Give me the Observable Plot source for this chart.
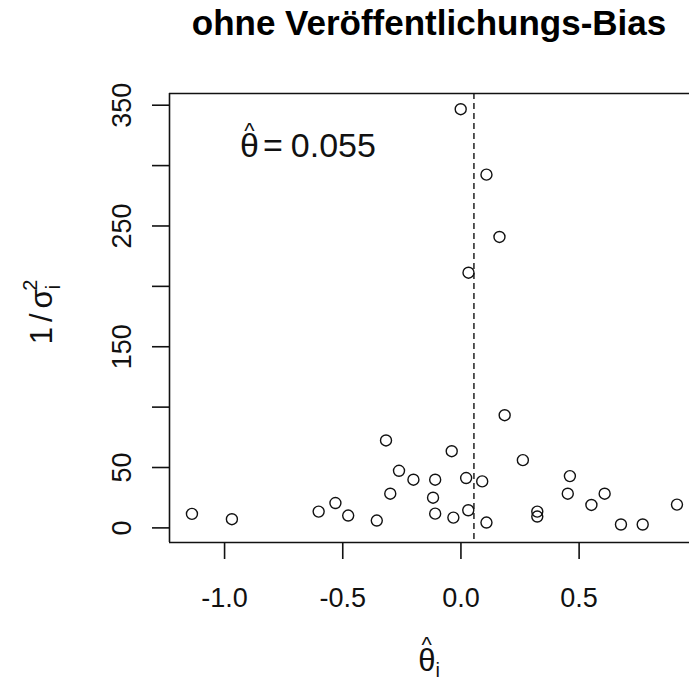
<!DOCTYPE html>
<html><head><meta charset="utf-8">
<script src="https://cdn.jsdelivr.net/npm/d3@7"></script>
<script src="https://cdn.jsdelivr.net/npm/@observablehq/plot@0.6"></script>
<style>
body{margin:0;background:#fff;overflow:hidden}
#wrap{position:relative;width:689px;height:679px;font-family:"Liberation Sans",Arial,sans-serif}
#wrap svg{position:absolute;left:0;top:0}
#title{position:absolute;left:169px;width:520px;top:0;line-height:46px;text-align:center;font-weight:bold;font-size:35px;color:#000;white-space:nowrap;z-index:2}
</style></head><body>
<div id="wrap"><div id="title">ohne Veröffentlichungs-Bias</div></div>
<script>
// study estimates (theta-hat_i) and precisions (1 / sigma_i^2)
const theta = [-1.138,-0.969,-0.602,-0.531,-0.477,-0.356,-0.317,-0.299,-0.262,-0.201,-0.109,-0.118,-0.109,-0.039,-0.032,0.022,0.031,0.090,0.108,0.185,0.262,0.323,0.323,0.461,0.452,0.552,0.608,0.677,0.769,0.914,-0.001,0.108,0.163,0.032];
const precision = [11.6,7.2,13.5,20.6,10.2,6.1,72.4,28.3,47.3,39.9,39.9,25.0,11.8,63.5,8.5,41.3,14.6,38.5,4.4,93.3,56.1,13.5,9.4,42.9,28.3,19.0,28.3,2.8,2.8,19.3,346.7,292.5,240.9,211.3];
const thetaHat = 0.055;
const thetaHatLabel = "0.055";
const xTicks = [-1, -0.5, 0, 0.5];
const xTickLabels = ["-1.0", "-0.5", "0.0", "0.5"];
const yTicks = [0, 50, 100, 150, 200, 250, 300, 350];
const yLabelTicks = [0, 50, 150, 250, 350];
const yLabelText = ["0", "50", "150", "250", "350"];
const xDomain = [-1.233, 0.967];
const yDomain = [-12.1, 359.7];

const points = theta.map((t, i) => ({theta: t, prec: precision[i]}));
const ink = "#111";

const plot = Plot.plot({
  width: 689,
  height: 679,
  marginLeft: 169,
  marginRight: 0,
  marginTop: 93,
  marginBottom: 137,
  style: {fontFamily: '"Liberation Sans", Arial, sans-serif', background: "transparent", color: ink},
  x: {domain: xDomain, axis: null},
  y: {domain: yDomain, axis: null},
  marks: [
    Plot.axisX({ticks: xTicks, tickSize: 17, tickPadding: 28, fontSize: 27, label: null,
      tickFormat: d => xTickLabels[xTicks.indexOf(d)], stroke: ink, strokeWidth: 1.6}),
    Plot.axisY({ticks: yTicks, tickSize: 17, tickFormat: () => "", label: null, stroke: ink, strokeWidth: 1.6}),
    Plot.text(yLabelTicks, {y: d => d, frameAnchor: "left", dx: -39, rotate: -90,
      lineAnchor: "bottom", textAnchor: "middle", fontSize: 27, fill: ink,
      text: (d, i) => yLabelText[i]}),
    Plot.ruleY([yDomain[0], yDomain[1]], {stroke: ink, strokeWidth: 1.6}),
    Plot.ruleX([xDomain[0]], {stroke: ink, strokeWidth: 1.6}),
    Plot.ruleX([thetaHat], {stroke: ink, strokeWidth: 1.4, strokeDasharray: "6,4"}),
    Plot.dot(points, {x: "theta", y: "prec", r: 5.5, stroke: ink, strokeWidth: 1.4, fill: "none"})
  ]
});
document.getElementById("wrap").appendChild(plot);

const svg = d3.select(plot);
const font = '"Liberation Sans", Arial, sans-serif';

// y-axis label: 1 / sigma_i^2
const yl = svg.append("text")
  .attr("transform", "translate(52,312) rotate(-90)")
  .attr("text-anchor", "middle")
  .attr("fill", ink)
  .style("font-family", font).style("font-size", "31px");
yl.append("tspan").text("1");
yl.append("tspan").attr("dx", 5).text("/");
yl.append("tspan").attr("dx", 5).text("σ");
yl.append("tspan").attr("dy", 8).style("font-size", "20px").text("i");
yl.append("tspan").attr("dx", -6).attr("dy", -23).style("font-size", "20px").text("2");

// x-axis label: theta-hat_i
const xl = svg.append("text")
  .attr("x", 429).attr("y", 671)
  .attr("text-anchor", "middle")
  .attr("fill", ink)
  .style("font-family", font).style("font-size", "31px");
xl.append("tspan").text("θ");
xl.append("tspan").attr("dy", 6).style("font-size", "20px").text("i");
const ex = xl.node().getExtentOfChar(0);
svg.append("text")
  .attr("x", ex.x + ex.width / 2).attr("y", 652)
  .attr("text-anchor", "middle").attr("fill", ink)
  .style("font-family", font).style("font-size", "22px").text("^");

// annotation: theta-hat = 0.055
const an = svg.append("text")
  .attr("x", 240).attr("y", 157)
  .attr("text-anchor", "start")
  .attr("fill", ink)
  .style("font-family", font).style("font-size", "34px");
an.append("tspan").text("θ");
an.append("tspan").attr("dx", 4).text("=");
an.append("tspan").attr("dx", 8).text(thetaHatLabel);
const ea = an.node().getExtentOfChar(0);
svg.append("text")
  .attr("x", ea.x + ea.width / 2).attr("y", 138)
  .attr("text-anchor", "middle").attr("fill", ink)
  .style("font-family", font).style("font-size", "22px").text("^");
</script>
</body></html>
